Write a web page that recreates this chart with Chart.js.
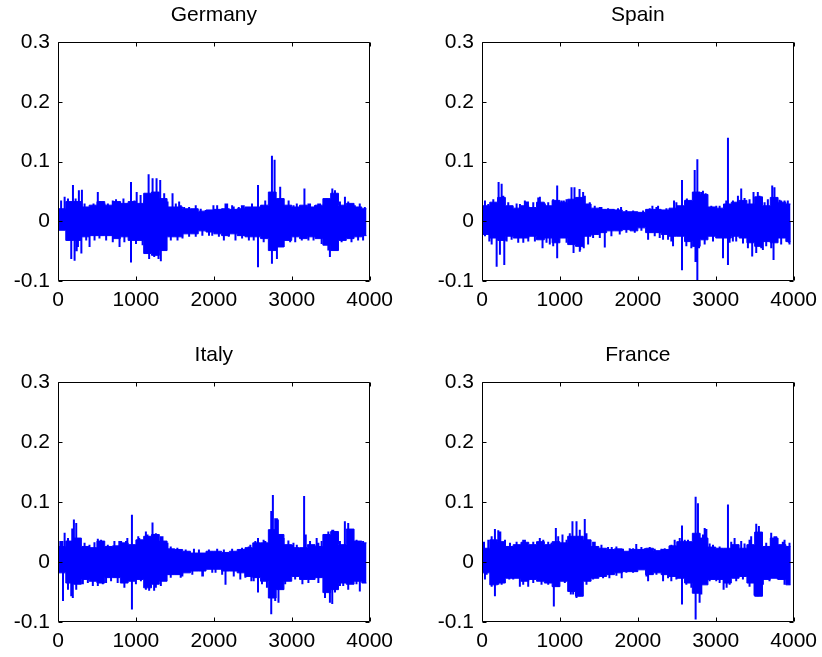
<!DOCTYPE html>
<html>
<head>
<meta charset="utf-8">
<script src="https://cdn.jsdelivr.net/npm/chart.js@4.4.1/dist/chart.umd.min.js"></script>
<style>
  html, body { margin: 0; padding: 0; background: #fff; overflow: hidden; }
  body { width: 822px; height: 657px; position: relative; }
  .panel { position: absolute; }
</style>
</head>
<body>
<div class="panel" style="left:0;top:0;width:400px;height:329px"><canvas id="germany"></canvas></div>
<div class="panel" style="left:424px;top:0;width:400px;height:329px"><canvas id="spain"></canvas></div>
<div class="panel" style="left:0;top:340px;width:400px;height:330px"><canvas id="italy"></canvas></div>
<div class="panel" style="left:424px;top:340px;width:400px;height:330px"><canvas id="france"></canvas></div>
<script>
// observation index where each 100-step block starts (last entry = end of series)
const binT = [0,100,200,300,400,500,600,700,800,900,1000,1100,1200,1300,1400,1500,1600,1700,1800,1900,
              2000,2100,2200,2300,2400,2500,2600,2700,2800,2900,3000,3100,3200,3300,3400,3500,3600,3700,3800,3900,3960];
const xTicks = [0, 1000, 2000, 3000, 4000];
const yTicks = [-0.1, 0, 0.1, 0.2, 0.3];

// bulk of the returns in each block (upper / lower edge)
const germanyHi = [0.021,0.033,0.033,0.024,0.027,0.033,0.027,0.033,0.030,0.033,
                   0.030,0.047,0.049,0.038,0.024,0.024,0.021,0.021,0.017,0.019,
                   0.020,0.021,0.020,0.021,0.024,0.024,0.027,0.049,0.038,0.027,
                   0.024,0.027,0.024,0.027,0.038,0.047,0.027,0.030,0.024,0.021,0.021];
const germanyLo = [-0.015,-0.032,-0.032,-0.026,-0.024,-0.024,-0.024,-0.029,-0.026,-0.032,
                   -0.032,-0.054,-0.057,-0.049,-0.026,-0.026,-0.021,-0.021,-0.016,-0.018,
                   -0.021,-0.024,-0.021,-0.024,-0.026,-0.026,-0.029,-0.049,-0.043,-0.032,
                   -0.026,-0.029,-0.026,-0.029,-0.040,-0.049,-0.032,-0.029,-0.026,-0.024,-0.024];
const spainHi = [0.026,0.032,0.040,0.026,0.022,0.026,0.023,0.032,0.026,0.035,
                 0.032,0.037,0.040,0.029,0.022,0.020,0.020,0.019,0.016,0.016,
                 0.015,0.020,0.020,0.019,0.022,0.026,0.035,0.049,0.045,0.024,
                 0.022,0.029,0.032,0.035,0.029,0.041,0.026,0.040,0.032,0.029,0.029];
const spainLo = [-0.022,-0.028,-0.032,-0.025,-0.028,-0.028,-0.025,-0.031,-0.028,-0.036,
                 -0.028,-0.039,-0.042,-0.025,-0.022,-0.019,-0.016,-0.016,-0.014,-0.016,
                 -0.011,-0.019,-0.019,-0.022,-0.025,-0.025,-0.034,-0.042,-0.031,-0.025,
                 -0.028,-0.028,-0.025,-0.028,-0.036,-0.042,-0.034,-0.036,-0.028,-0.034,-0.034];
const italyHi = [0.026,0.035,0.040,0.026,0.024,0.035,0.026,0.027,0.032,0.029,
                 0.037,0.043,0.046,0.035,0.022,0.021,0.018,0.015,0.015,0.018,
                 0.018,0.016,0.018,0.021,0.024,0.032,0.032,0.054,0.046,0.029,
                 0.024,0.024,0.029,0.026,0.046,0.051,0.029,0.055,0.035,0.032,0.032];
const italyLo = [-0.018,-0.035,-0.037,-0.029,-0.032,-0.035,-0.026,-0.026,-0.035,-0.032,
                 -0.029,-0.043,-0.037,-0.032,-0.021,-0.021,-0.018,-0.015,-0.015,-0.012,
                 -0.012,-0.015,-0.015,-0.018,-0.024,-0.026,-0.032,-0.060,-0.046,-0.032,
                 -0.024,-0.029,-0.029,-0.026,-0.051,-0.046,-0.035,-0.037,-0.032,-0.035,-0.035];
const franceHi = [0.023,0.037,0.034,0.026,0.029,0.033,0.029,0.034,0.029,0.034,
                  0.032,0.043,0.043,0.037,0.026,0.023,0.021,0.022,0.018,0.021,
                  0.021,0.023,0.019,0.021,0.027,0.034,0.034,0.048,0.040,0.025,
                  0.023,0.023,0.029,0.023,0.029,0.050,0.026,0.040,0.029,0.026,0.026];
const franceLo = [-0.018,-0.038,-0.035,-0.027,-0.027,-0.032,-0.029,-0.032,-0.035,-0.041,
                  -0.032,-0.049,-0.057,-0.032,-0.027,-0.024,-0.021,-0.018,-0.016,-0.016,
                  -0.013,-0.021,-0.018,-0.021,-0.024,-0.027,-0.035,-0.052,-0.038,-0.029,
                  -0.029,-0.035,-0.027,-0.024,-0.035,-0.057,-0.029,-0.027,-0.029,-0.038,-0.038];

// single large returns sticking out of the bulk: [index, return]
const germanySpikes = [[40,0.035],[85,0.041],[170,-0.063],[192,0.061],[213,-0.066],[240,-0.050],[268,0.052],
  [300,-0.054],[307,0.053],[405,-0.043],[511,0.049],[640,0.030],[745,0.037],[790,-0.043],[840,0.038],
  [937,0.066],[937,-0.069],[1010,0.049],[1060,0.044],[1163,0.079],[1170,-0.063],[1214,0.072],[1265,0.072],
  [1290,-0.063],[1312,0.069],[1320,-0.067],[1470,0.047],[1555,0.033],[1995,0.027],[2150,0.030],[2255,0.025],
  [2360,0.027],[2450,-0.032],[2490,0.030],[2567,0.061],[2567,-0.077],[2660,0.035],[2746,0.110],[2746,-0.071],
  [2780,0.103],[2810,-0.063],[2852,0.058],[2960,0.035],[3045,-0.035],[3163,0.055],[3235,0.030],[3280,-0.032],
  [3340,0.030],[3470,-0.049],[3490,-0.060],[3521,0.055],[3683,0.041],[3725,0.033],[3767,-0.035],[3873,0.030],[3916,-0.032]];
const spainSpikes = [[124,-0.039],[188,-0.076],[213,0.066],[230,-0.056],[252,0.063],[286,-0.073],[530,-0.036],
  [550,0.035],[590,0.033],[743,0.041],[777,-0.045],[870,-0.039],[965,0.060],[965,-0.062],[1050,0.035],
  [1149,0.057],[1175,-0.053],[1187,0.057],[1252,0.054],[1260,-0.048],[1298,0.049],[1306,-0.045],[1320,0.043],
  [1533,0.024],[1576,-0.044],[1785,0.024],[2132,-0.031],[2187,0.026],[2260,0.026],[2324,-0.031],[2430,-0.034],
  [2452,-0.042],[2465,0.035],[2567,0.069],[2567,-0.082],[2630,0.038],[2730,0.086],[2740,-0.068],[2764,0.104],
  [2764,-0.099],[2785,-0.045],[2836,0.051],[2870,0.047],[3050,0.026],[3093,-0.062],[3135,0.035],[3157,0.140],
  [3157,-0.073],[3220,-0.034],[3285,0.043],[3327,0.055],[3350,-0.037],[3370,0.039],[3468,-0.059],[3485,0.049],
  [3540,0.049],[3584,-0.045],[3627,0.032],[3648,-0.042],[3725,0.060],[3742,-0.065],[3754,0.057],[3840,0.035],
  [3883,0.035],[3947,-0.039]];
const italySpikes = [[30,0.035],[64,-0.065],[85,0.049],[170,-0.057],[183,0.056],[190,-0.060],[204,0.071],
  [234,0.065],[277,0.037],[447,-0.040],[511,0.039],[575,-0.037],[787,0.035],[810,0.035],[852,-0.043],[890,0.040],
  [949,0.079],[949,-0.079],[1030,0.043],[1128,0.051],[1170,-0.048],[1213,0.066],[1234,-0.048],[1341,0.043],
  [1384,-0.029],[1405,0.032],[1575,-0.026],[1860,-0.024],[2150,-0.038],[2340,-0.029],[2362,0.023],[2448,0.026],
  [2482,-0.032],[2567,0.040],[2567,-0.051],[2661,0.035],[2737,0.085],[2737,-0.087],[2758,0.112],[2788,0.073],
  [2822,0.071],[2830,-0.068],[2957,0.036],[3022,0.032],[3137,-0.037],[3159,0.110],[3180,0.046],[3320,0.040],
  [3384,0.035],[3448,0.040],[3490,-0.068],[3520,0.054],[3520,-0.070],[3619,-0.040],[3682,0.068],[3725,0.065],
  [3768,-0.029],[3832,0.037],[3874,-0.049],[3938,-0.029]];
const franceSpikes = [[26,0.034],[38,-0.029],[124,0.043],[166,0.055],[166,-0.057],[209,0.053],[235,0.051],
  [252,-0.038],[350,-0.029],[400,-0.029],[486,-0.041],[529,0.037],[593,-0.041],[742,0.040],[892,0.032],
  [922,-0.074],[948,0.057],[1033,0.046],[1127,0.048],[1140,-0.054],[1161,0.068],[1213,0.068],[1213,-0.060],
  [1255,0.054],[1319,0.072],[1362,0.034],[1447,0.034],[1635,-0.027],[1665,0.025],[1793,-0.027],[1940,0.023],
  [1980,0.030],[2046,0.025],[2132,-0.032],[2153,0.025],[2324,-0.032],[2345,0.023],[2430,-0.032],[2473,0.037],
  [2567,0.061],[2567,-0.071],[2602,0.037],[2666,0.029],[2742,0.109],[2742,-0.096],[2772,0.098],[2793,-0.068],
  [2858,0.057],[2880,0.055],[2922,0.031],[3050,-0.035],[3101,-0.046],[3140,-0.043],[3157,0.096],[3242,0.040],
  [3327,0.035],[3455,0.043],[3498,-0.056],[3520,0.064],[3540,-0.057],[3554,0.060],[3648,0.032],[3712,0.049],
  [3754,0.043],[3883,0.037],[3947,-0.038]];

// smaller returns just outside the bulk: [index, return]
const germanyEdge = [[128,0.038],[226,0.038],[341,0.030],[456,0.030],[541,0.033],[596,0.030],[703,0.035],
  [797,0.033],[895,0.030],[980,0.035],[1108,0.035],[1363,0.047],[1406,0.033],[1512,0.030],[1576,0.027],
  [1619,0.024],[1683,0.024],[1768,0.027],[1832,0.021],[1896,0.019],[2043,0.027],[2107,0.021],[2171,0.030],
  [2235,0.027],[2320,0.024],[2384,0.027],[2618,0.027],[2895,0.038],[3023,0.027],[3065,0.030],[3214,0.030],
  [3299,0.027],[3363,0.030],[3448,0.038],[3555,0.052],[3619,0.033],[3810,0.027],[3938,0.024],
  [128,-0.032],[256,-0.043],[362,-0.032],[469,-0.032],[532,-0.029],[618,-0.032],[703,-0.035],[852,-0.035],
  [1001,-0.038],[1086,-0.040],[1235,-0.060],[1385,-0.038],[1448,-0.032],[1534,-0.032],[1598,-0.029],
  [1683,-0.026],[1768,-0.026],[1853,-0.024],[1938,-0.024],[1980,-0.024],[2065,-0.026],[2129,-0.032],
  [2192,-0.026],[2278,-0.032],[2363,-0.029],[2512,-0.032],[2640,-0.035],[2895,-0.043],[2980,-0.035],
  [3129,-0.032],[3214,-0.032],[3384,-0.038],[3555,-0.046],[3640,-0.035],[3852,-0.032]];
const spainEdge = [[38,0.035],[81,0.029],[145,0.037],[273,0.043],[337,0.032],[380,0.026],[444,0.030],
  [487,0.029],[572,0.033],[658,0.032],[722,0.040],[807,0.030],[850,0.032],[914,0.037],[1021,0.035],
  [1085,0.037],[1383,0.032],[1447,0.026],[1512,0.024],[1618,0.022],[1682,0.020],[1746,0.022],[1853,0.019],
  [1940,0.018],[2068,0.018],[2153,0.022],[2239,0.024],[2367,0.022],[2495,0.032],[2623,0.036],[2815,0.049],
  [2943,0.026],[3007,0.026],[3221,0.035],[3434,0.037],[3562,0.043],[3669,0.037],[3819,0.036],[3925,0.035],
  [38,-0.025],[94,-0.034],[316,-0.034],[380,-0.031],[465,-0.036],[594,-0.034],[679,-0.034],[828,-0.036],
  [914,-0.042],[1085,-0.036],[1255,-0.051],[1362,-0.039],[1426,-0.028],[1512,-0.028],[1661,-0.025],
  [1768,-0.022],[1853,-0.019],[1961,-0.019],[2046,-0.016],[2217,-0.025],[2281,-0.028],[2388,-0.031],
  [2623,-0.042],[2687,-0.045],[2858,-0.039],[2965,-0.034],[3178,-0.036],[3263,-0.034],[3413,-0.045],
  [3520,-0.053],[3605,-0.048],[3712,-0.045],[3840,-0.039],[3938,-0.036]];
const italyEdge = [[55,0.035],[128,0.040],[268,0.037],[341,0.032],[404,0.029],[468,0.033],[553,0.037],
  [639,0.029],[724,0.035],[873,0.035],[1043,0.040],[1149,0.046],[1256,0.048],[1320,0.043],[1447,0.026],
  [1532,0.024],[1639,0.021],[1745,0.022],[1809,0.021],[1937,0.021],[2043,0.022],[2129,0.021],[2235,0.022],
  [2363,0.024],[2469,0.029],[2533,0.035],[2639,0.037],[2810,0.073],[2895,0.040],[3001,0.029],[3065,0.029],
  [3235,0.035],[3342,0.032],[3470,0.051],[3533,0.054],[3619,0.035],[3746,0.054],[3810,0.035],[3916,0.035],
  [128,-0.046],[234,-0.046],[319,-0.037],[383,-0.035],[511,-0.040],[617,-0.035],[681,-0.032],[766,-0.035],
  [1000,-0.037],[1064,-0.032],[1128,-0.046],[1256,-0.043],[1320,-0.040],[1447,-0.026],[1596,-0.024],
  [1724,-0.021],[1852,-0.024],[1980,-0.018],[2022,-0.018],[2107,-0.021],[2256,-0.024],[2405,-0.026],
  [2512,-0.032],[2618,-0.037],[2682,-0.043],[2788,-0.065],[2916,-0.037],[3044,-0.029],[3214,-0.035],
  [3342,-0.035],[3427,-0.060],[3555,-0.051],[3661,-0.040],[3725,-0.046],[3831,-0.037],[3938,-0.035]];
const franceEdge = [[81,0.037],[231,0.046],[295,0.037],[359,0.032],[444,0.034],[551,0.037],[658,0.034],
  [786,0.037],[850,0.034],[978,0.043],[1085,0.037],[1255,0.054],[1341,0.048],[1426,0.034],[1533,0.029],
  [1618,0.025],[1725,0.026],[1810,0.022],[1896,0.023],[1982,0.023],[2089,0.023],[2217,0.022],[2303,0.022],
  [2431,0.029],[2538,0.040],[2644,0.037],[2836,0.046],[2965,0.029],[3050,0.026],[3199,0.034],[3285,0.029],
  [3370,0.031],[3434,0.037],[3584,0.046],[3648,0.032],[3776,0.043],[3861,0.034],[3947,0.032],
  [60,-0.021],[124,-0.041],[209,-0.038],[273,-0.035],[401,-0.029],[529,-0.038],[658,-0.035],[764,-0.038],
  [850,-0.038],[978,-0.041],[1063,-0.035],[1170,-0.054],[1255,-0.057],[1341,-0.038],[1426,-0.029],
  [1554,-0.027],[1725,-0.023],[1853,-0.018],[1939,-0.018],[1982,-0.016],[2111,-0.024],[2239,-0.021],
  [2388,-0.027],[2495,-0.029],[2623,-0.038],[2687,-0.043],[2815,-0.054],[2922,-0.032],[3007,-0.032],
  [3178,-0.038],[3263,-0.032],[3349,-0.029],[3434,-0.041],[3605,-0.038],[3690,-0.032],[3797,-0.029],[3883,-0.038]];

const BLUE = '#0000ff';
const FONT = '"Liberation Sans", Arial, Helvetica, sans-serif';

// matlab style box with ticks pointing inwards on all four sides
const boxAxes = {
  id: 'boxAxes',
  afterDatasetsDraw(chart) {
    const {ctx, chartArea: a, scales} = chart;
    const L = Math.round(a.left) + 0.5, R = Math.round(a.right) - 0.5;
    const T = Math.round(a.top) + 0.5, B = Math.round(a.bottom) - 0.5;
    ctx.save();
    ctx.strokeStyle = '#000';
    ctx.lineWidth = 1;
    ctx.beginPath();
    ctx.rect(L, T, R - L, B - T);
    xTicks.forEach(v => {
      const px = Math.round(scales.x.getPixelForValue(v)) + 0.5;
      ctx.moveTo(px, B); ctx.lineTo(px, B - 4);
      ctx.moveTo(px, T); ctx.lineTo(px, T + 4);
    });
    yTicks.forEach(v => {
      const py = Math.round(scales.y.getPixelForValue(v)) + 0.5;
      ctx.moveTo(L, py); ctx.lineTo(L + 4, py);
      ctx.moveTo(R, py); ctx.lineTo(R - 4, py);
    });
    ctx.stroke();
    ctx.restore();
  }
};

function makeChart(id, title, hi, lo, spikes) {
  const band = (vals) => binT.map((t, i) => ({x: t, y: vals[i]}));
  // every spike is its own vertical stroke from zero, split by null gaps
  let spikeLine = [];
  spikes.forEach(s => {
    spikeLine.push({x: s[0], y: 0}, {x: s[0], y: s[1]}, {x: s[0], y: null});
  });
  const common = {borderColor: BLUE, backgroundColor: BLUE, borderWidth: 1, pointRadius: 0};
  new Chart(document.getElementById(id), {
    type: 'line',
    data: {
      datasets: [
        {...common, data: band(hi), stepped: true, fill: '+1'},
        {...common, data: band(lo), stepped: true, fill: false},
        {...common, data: spikeLine, borderWidth: 2, borderCapStyle: 'butt', spanGaps: false, fill: false}
      ]
    },
    options: {
      responsive: true,
      maintainAspectRatio: false,
      animation: false,
      events: [],
      layout: {padding: {left: 0, right: 28, top: 0, bottom: 0}},
      plugins: {
        legend: {display: false},
        tooltip: {enabled: false},
        title: {
          display: true, text: title, fullSize: false, color: '#000',
          font: {family: FONT, size: 21, weight: 'normal', lineHeight: 1.2},
          padding: {top: 3, bottom: 14}
        }
      },
      scales: {
        x: {
          type: 'linear', min: 0, max: 4000,
          afterFit: s => { s.height = 48; },
          afterBuildTicks: s => { s.ticks = xTicks.map(v => ({value: v})); },
          grid: {display: false, drawTicks: false},
          border: {display: false},
          ticks: {color: '#000', padding: 7, maxRotation: 0, font: {family: FONT, size: 21},
                  callback: v => String(v)}
        },
        y: {
          min: -0.1, max: 0.3,
          afterFit: s => { s.width = 58; },
          afterBuildTicks: s => { s.ticks = yTicks.map(v => ({value: v})); },
          grid: {display: false, drawTicks: false},
          border: {display: false},
          ticks: {color: '#000', padding: 8, font: {family: FONT, size: 21},
                  callback: v => String(+v.toFixed(1))}
        }
      }
    },
    plugins: [boxAxes]
  });
}

makeChart('germany', 'Germany', germanyHi, germanyLo, germanySpikes.concat(germanyEdge));
makeChart('spain', 'Spain', spainHi, spainLo, spainSpikes.concat(spainEdge));
makeChart('italy', 'Italy', italyHi, italyLo, italySpikes.concat(italyEdge));
makeChart('france', 'France', franceHi, franceLo, franceSpikes.concat(franceEdge));
</script>
</body>
</html>
